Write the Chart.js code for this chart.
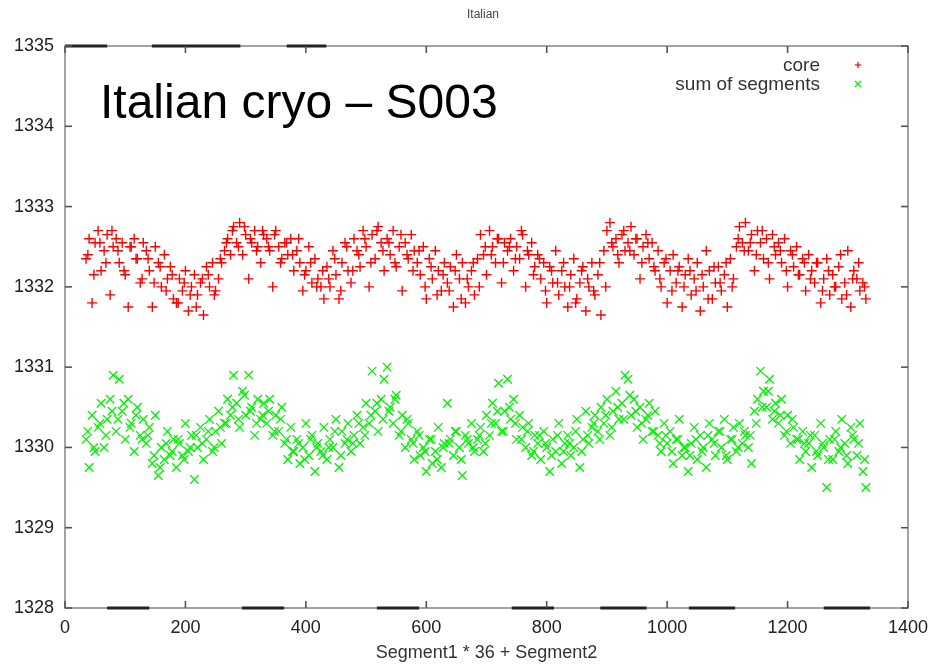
<!DOCTYPE html>
<html><head><meta charset="utf-8">
<script src="https://cdn.jsdelivr.net/npm/chart.js@4"></script>
<style>html,body{margin:0;padding:0;background:#fff;overflow:hidden}#wrap{width:944px;height:665px}</style>
</head><body><div id="wrap"><canvas id="c" width="944" height="665"></canvas></div>
<script>
const chartTitle = "Italian";
const overlayText = "Italian cryo \u2013 S003";
const xAxisTitle = "Segment1 * 36 + Segment2";
const seriesNames = ["core", "sum of segments"];
const xTicks = [0, 200, 400, 600, 800, 1000, 1200, 1400];
const yTicks = [1328, 1329, 1330, 1331, 1332, 1333, 1334, 1335];

const positions = [
35,40,45,50,55,60,65,70,75,80,
85,90,95,100,105,110,115,120,125,130,
135,140,145,150,155,160,165,170,175,180,
185,190,195,200,205,210,215,220,225,230,
235,240,245,250,255,260,265,270,275,280,
285,290,295,300,305,310,315,320,325,330,
335,340,345,350,355,360,365,370,375,380,
385,390,395,400,405,410,415,420,425,430,
435,440,445,450,455,460,465,470,475,480,
485,490,495,500,505,510,515,520,525,530,
535,540,545,550,555,560,565,570,575,580,
585,590,595,600,605,610,615,620,625,630,
635,640,645,650,655,660,665,670,675,680,
685,690,695,700,705,710,715,720,725,730,
735,740,745,750,755,760,765,770,775,780,
785,790,795,800,805,810,815,820,825,830,
835,840,845,850,855,860,865,870,875,880,
885,890,895,900,905,910,915,920,925,930,
935,940,945,950,955,960,965,970,975,980,
985,990,995,1000,1005,1010,1015,1020,1025,1030,
1035,1040,1045,1050,1055,1060,1065,1070,1075,1080,
1085,1090,1095,1100,1105,1110,1115,1120,1125,1130,
1135,1140,1145,1150,1155,1160,1165,1170,1175,1180,
1185,1190,1195,1200,1205,1210,1215,1220,1225,1230,
1235,1240,1245,1250,1255,1260,1265,1270,1275,1280,
1285,1290,1295,1300,1305,1310,1315,1320,1325,1330
];

const coreValues = [
1332.35,1332.6,1331.8,1332.55,1332.7,1332.2,1332.45,1332.65,1331.9,1332.5,
1332.6,1332.3,1332.55,1332.15,1331.75,1332.5,1332.6,1332.35,1332.05,1332.55,
1332.45,1332.2,1331.75,1332.5,1332.3,1332.0,1332.4,1332.1,1332.25,1331.85,
1331.8,1332.1,1331.95,1332.2,1331.7,1332.0,1332.15,1331.9,1332.05,1331.65,
1332.25,1332.0,1332.3,1331.95,1332.1,1332.3,1332.45,1332.6,1332.4,1332.75,
1332.55,1332.8,1332.4,1332.65,1332.1,1332.55,1332.7,1332.5,1332.3,1332.65,
1332.6,1332.45,1332.0,1332.7,1332.5,1332.35,1332.55,1332.4,1332.6,1332.2,
1332.45,1332.3,1331.95,1332.2,1332.5,1332.05,1332.35,1332.1,1332.0,1331.85,
1332.25,1332.0,1332.45,1332.15,1331.85,1332.3,1332.55,1332.2,1332.05,1332.6,
1332.45,1332.25,1332.7,1332.5,1332.0,1332.65,1332.35,1332.75,1332.55,1332.2,
1332.6,1332.4,1332.7,1332.25,1332.5,1331.95,1332.55,1332.35,1332.65,1332.45,
1332.3,1332.15,1332.5,1331.85,1332.35,1332.1,1332.45,1332.2,1331.95,1332.3,
1332.05,1332.25,1331.75,1332.4,1332.1,1332.3,1331.8,1332.0,1332.2,1331.9,
1332.35,1332.65,1332.4,1332.15,1332.7,1332.5,1332.3,1332.6,1332.05,1332.55,
1332.45,1332.6,1332.2,1332.5,1332.35,1332.65,1332.0,1332.4,1332.55,1332.25,
1332.4,1332.1,1332.3,1331.8,1332.25,1332.05,1332.45,1331.9,1332.2,1332.0,
1331.75,1332.15,1332.35,1331.85,1332.05,1332.25,1331.7,1332.0,1332.3,1331.9,
1332.15,1331.65,1332.45,1332.7,1332.8,1332.5,1332.6,1332.3,1332.65,1332.45,
1332.55,1332.75,1332.4,1332.6,1332.1,1332.5,1332.65,1332.35,1332.55,1332.2,
1332.45,1332.0,1332.3,1331.8,1332.2,1332.4,1332.05,1332.25,1331.75,1332.15,
1332.35,1331.9,1332.1,1332.3,1331.7,1332.0,1332.45,1332.2,1331.85,1332.05,
1332.25,1331.95,1332.15,1331.75,1332.35,1332.1,1332.5,1332.75,1332.55,1332.8,
1332.45,1332.65,1332.2,1332.7,1332.55,1332.35,1332.6,1332.1,1332.65,1332.4,
1332.55,1332.3,1332.6,1332.0,1332.45,1332.25,1332.5,1332.15,1332.35,1331.95,
1332.4,1332.2,1332.05,1332.3,1331.8,1332.1,1332.35,1331.9,1332.15,1332.0,
1332.25,1331.85,1332.05,1332.45,1331.75,1332.2,1332.1,1331.95,1332.05,1331.85
];

const segmentSumValues = [
1330.1,1329.75,1330.4,1329.95,1330.25,1330.55,1330.0,1330.35,1330.6,1330.9,
1330.2,1330.85,1330.45,1330.1,1330.6,1330.3,1329.95,1330.5,1330.15,1330.35,
1330.05,1330.25,1329.8,1330.4,1329.65,1330.0,1329.85,1330.2,1329.9,1330.1,
1329.75,1330.05,1329.9,1330.3,1329.95,1330.15,1329.6,1330.0,1330.25,1329.85,
1330.1,1330.35,1329.95,1330.2,1330.45,1330.05,1330.3,1330.6,1330.4,1330.9,
1330.55,1330.25,1330.7,1330.4,1330.9,1330.5,1330.15,1330.6,1330.35,1330.55,
1330.3,1330.6,1330.15,1330.4,1330.2,1330.5,1330.05,1329.85,1330.25,1329.95,
1330.1,1329.8,1330.0,1330.3,1329.9,1330.15,1329.7,1330.05,1329.95,1330.25,
1329.85,1330.1,1330.0,1330.35,1329.75,1330.2,1330.05,1330.3,1329.95,1330.15,
1330.4,1330.05,1330.25,1330.55,1330.3,1330.95,1330.45,1330.2,1330.6,1330.85,
1331.0,1330.5,1330.3,1330.65,1330.15,1330.4,1330.0,1330.3,1330.1,1329.85,
1330.2,1329.9,1330.0,1329.7,1330.1,1329.8,1329.95,1330.25,1329.75,1330.05,
1330.55,1330.1,1329.9,1330.2,1330.0,1329.65,1330.15,1330.05,1330.3,1329.95,
1330.1,1330.25,1329.95,1330.4,1330.15,1330.55,1330.3,1330.8,1330.2,1330.45,
1330.85,1330.35,1330.6,1330.1,1330.4,1330.25,1330.0,1330.3,1329.9,1330.15,
1330.05,1329.85,1330.2,1330.0,1329.7,1330.1,1329.95,1330.3,1329.8,1330.05,
1330.15,1329.9,1330.0,1330.35,1329.75,1330.1,1330.45,1330.05,1330.25,1330.4,
1330.2,1330.5,1330.3,1330.6,1330.15,1330.45,1330.7,1330.35,1330.55,1330.9,
1330.85,1330.4,1330.6,1330.25,1330.5,1330.1,1330.35,1330.55,1330.2,1330.45,
1330.15,1329.95,1330.3,1330.05,1330.2,1329.8,1330.1,1330.35,1329.9,1330.0,
1329.7,1330.05,1330.25,1329.85,1330.15,1330.0,1329.75,1330.3,1330.1,1329.9,
1330.2,1330.0,1330.35,1329.85,1330.1,1330.25,1329.95,1330.3,1330.05,1330.15,
1330.0,1329.8,1330.45,1330.6,1330.95,1330.7,1330.5,1330.85,1330.35,1330.55,
1330.3,1330.6,1330.15,1330.4,1330.05,1330.25,1330.1,1329.85,1330.2,1329.95,
1330.05,1329.75,1330.15,1329.9,1330.3,1330.0,1329.5,1330.1,1329.85,1330.2,
1329.95,1330.35,1330.05,1329.8,1330.25,1330.1,1329.9,1330.3,1329.7,1329.5
];

const positionsB = [
38,48,58,68,78,88,98,108,118,128,
138,148,158,168,178,188,198,208,218,228,
238,248,258,268,278,288,298,308,318,328,
338,348,358,368,378,388,398,408,418,428,
438,448,458,468,478,488,498,508,518,528,
538,548,558,568,578,588,598,608,618,628,
638,648,658,668,678,688,698,708,718,728,
738,748,758,768,778,788,798,808,818,828,
838,848,858,868,878,888,898,908,918,928,
938,948,958,968,978,988,998,1008,1018,1028,
1038,1048,1058,1068,1078,1088,1098,1108,1118,1128,
1138,1148,1158,1168,1178,1188,1198,1208,1218,1228,
1238,1248,1258,1268,1278,1288,1298,1308,1318,1328
];

const coreValuesB = [
1332.4,1332.15,1332.55,1332.3,1332.7,1332.45,1332.2,1332.5,1332.35,1332.1,
1332.35,1332.05,1332.25,1331.95,1332.15,1331.8,1332.05,1331.9,1331.75,1332.1,
1332.15,1331.9,1332.35,1332.55,1332.7,1332.5,1332.75,1332.6,1332.45,1332.7,
1332.5,1332.65,1332.3,1332.55,1332.4,1332.6,1332.15,1332.3,1332.0,1332.2,
1332.1,1332.35,1331.95,1332.5,1332.2,1332.4,1332.6,1332.3,1332.7,1332.45,
1332.55,1332.3,1332.65,1332.4,1332.2,1332.45,1332.0,1332.25,1331.9,1332.15,
1331.95,1332.2,1331.85,1332.1,1332.3,1332.0,1332.5,1332.4,1332.6,1332.3,
1332.5,1332.35,1332.7,1332.45,1332.15,1332.35,1331.95,1332.2,1332.05,1332.3,
1332.0,1331.8,1332.2,1332.1,1331.95,1332.3,1332.0,1332.55,1332.4,1332.7,
1332.45,1332.6,1332.3,1332.55,1332.25,1332.1,1332.35,1331.95,1332.2,1332.0,
1332.2,1331.95,1332.15,1331.85,1332.25,1332.05,1332.3,1332.0,1332.6,1332.45,
1332.55,1332.4,1332.7,1332.3,1332.5,1332.45,1332.2,1332.4,1332.15,1332.3,
1332.1,1332.3,1331.95,1332.2,1332.0,1332.4,1331.9,1332.1,1332.3,1332.0
];

const segmentSumValuesB = [
1330.2,1330.0,1330.3,1330.15,1330.45,1330.35,1330.55,1330.25,1330.4,1330.1,
1330.15,1329.9,1329.75,1330.05,1329.95,1330.1,1329.85,1330.0,1330.15,1330.05,
1330.2,1330.0,1330.25,1330.3,1330.5,1330.35,1330.65,1330.45,1330.3,1330.4,
1330.45,1330.2,1330.35,1330.1,1329.95,1330.05,1329.85,1330.1,1330.0,1329.9,
1330.0,1330.2,1329.9,1330.1,1330.05,1330.3,1330.15,1330.4,1330.55,1330.35,
1330.45,1330.6,1330.2,1330.35,1330.05,1330.15,1329.95,1330.1,1329.85,1330.0,
1330.05,1330.2,1329.85,1330.1,1330.0,1330.15,1330.05,1330.3,1330.45,1330.2,
1330.5,1330.3,1330.1,1330.2,1329.95,1330.15,1330.05,1329.9,1330.15,1329.95,
1330.05,1330.2,1329.95,1330.15,1330.3,1330.1,1330.4,1330.25,1330.5,1330.35,
1330.65,1330.45,1330.3,1330.4,1330.2,1330.05,1330.15,1329.95,1330.1,1330.0,
1329.9,1330.1,1329.95,1330.15,1330.05,1330.2,1329.9,1330.1,1330.0,1330.2,
1330.15,1330.3,1330.5,1330.7,1330.45,1330.4,1330.2,1330.35,1330.1,1330.05,
1330.15,1329.95,1330.05,1329.85,1330.1,1330.0,1329.9,1330.15,1330.05,1329.85
];

const FONT = '"Liberation Sans", Arial, sans-serif';
const RED = '#ff0000';
const GREEN = '#00f000';

const toPoints = (xs, ys) => xs.map((p, i) => ({ x: p, y: ys[i] }));

const decor = {
  id: 'decor',
  afterDatasetsDraw(chart) {
    const ctx = chart.ctx, a = chart.chartArea, xs = chart.scales.x, ys = chart.scales.y;
    ctx.save();
    const line = (x1, y1, x2, y2) => { ctx.beginPath(); ctx.moveTo(x1, y1); ctx.lineTo(x2, y2); ctx.stroke(); };
    // frame
    ctx.strokeStyle = '#8c8c8c'; ctx.lineWidth = 1.6;
    ctx.strokeRect(a.left, a.top, a.right - a.left, a.bottom - a.top);
    // darker dash segments on the frame (scan artefact of the original border)
    ctx.strokeStyle = '#222'; ctx.lineWidth = 3;
    const w = a.right - a.left;
    [[0.05, 0.10], [0.21, 0.26], [0.37, 0.42], [0.53, 0.58], [0.635, 0.69], [0.74, 0.795], [0.90, 0.955]]
      .forEach(([f1, f2]) => line(a.left + f1 * w, a.bottom, a.left + f2 * w, a.bottom));
    [[0.0, 0.05], [0.103, 0.208], [0.263, 0.31]]
      .forEach(([f1, f2]) => line(a.left + f1 * w, a.top, a.left + f2 * w, a.top));
    // inward tick marks
    ctx.strokeStyle = '#555'; ctx.lineWidth = 1.6;
    const L = 7;
    yTicks.forEach(v => { const p = ys.getPixelForValue(v); line(a.left, p, a.left + L, p); line(a.right - L, p, a.right, p); });
    xTicks.forEach(v => { const p = xs.getPixelForValue(v); line(p, a.bottom, p, a.bottom - L); line(p, a.top, p, a.top + L); });
    // chart title
    ctx.fillStyle = '#444'; ctx.font = '12px ' + FONT; ctx.textAlign = 'center'; ctx.textBaseline = 'middle';
    ctx.fillText(chartTitle, 483, 15);
    // overlay label
    ctx.fillStyle = '#000'; ctx.font = '48px ' + FONT; ctx.textAlign = 'left'; ctx.textBaseline = 'alphabetic';
    ctx.fillText(overlayText, 100, 118);
    // legend
    ctx.font = '19px ' + FONT; ctx.textAlign = 'right'; ctx.textBaseline = 'middle'; ctx.fillStyle = '#333';
    const ly = [66, 85];
    ctx.fillText(chart.data.datasets[0].label, 820, ly[0]);
    ctx.fillText(chart.data.datasets[1].label, 820, ly[1]);
    ctx.lineWidth = 1.2;
    ctx.strokeStyle = RED; line(855, ly[0] - 1, 861, ly[0] - 1); line(858, ly[0] - 4, 858, ly[0] + 2);
    ctx.strokeStyle = GREEN; line(855, ly[1] - 4, 861, ly[1] + 2); line(855, ly[1] + 2, 861, ly[1] - 4);
    ctx.restore();
  }
};

const tickFont = { family: FONT, size: 18 };

new Chart(document.getElementById('c'), {
  type: 'scatter',
  data: {
    datasets: [
      { label: seriesNames[0], data: toPoints(positions, coreValues).concat(toPoints(positionsB, coreValuesB)),
        pointStyle: 'cross', pointRadius: 5, pointHoverRadius: 5, pointBorderWidth: 1.4,
        borderColor: RED, backgroundColor: RED, showLine: false },
      { label: seriesNames[1], data: toPoints(positions, segmentSumValues).concat(toPoints(positionsB, segmentSumValuesB)),
        pointStyle: 'crossRot', pointRadius: 6, pointHoverRadius: 6, pointBorderWidth: 1.3,
        borderColor: GREEN, backgroundColor: GREEN, showLine: false }
    ]
  },
  options: {
    responsive: false, animation: false, devicePixelRatio: 1,
    layout: { padding: { left: 0, right: 36, top: 46, bottom: 0 } },
    plugins: { legend: { display: false }, title: { display: false }, tooltip: { enabled: false } },
    scales: {
      x: {
        type: 'linear', min: 0, max: 1400,
        afterBuildTicks: s => { s.ticks = xTicks.map(v => ({ value: v })); },
        grid: { display: false, drawTicks: false }, border: { display: false },
        ticks: { padding: 9, color: '#222', font: tickFont, maxRotation: 0, callback: v => String(v) },
        title: { display: true, text: xAxisTitle, color: '#333', font: { family: FONT, size: 18 }, padding: { top: 0, bottom: 1 } },
        afterFit: s => { s.height = 57; }
      },
      y: {
        type: 'linear', min: 1328, max: 1335,
        afterBuildTicks: s => { s.ticks = yTicks.map(v => ({ value: v })); },
        grid: { display: false, drawTicks: false }, border: { display: false },
        ticks: { padding: 11, color: '#222', font: tickFont, callback: v => String(v) },
        afterFit: s => { s.width = 65; }
      }
    }
  },
  plugins: [decor]
});
</script>
</body></html>
